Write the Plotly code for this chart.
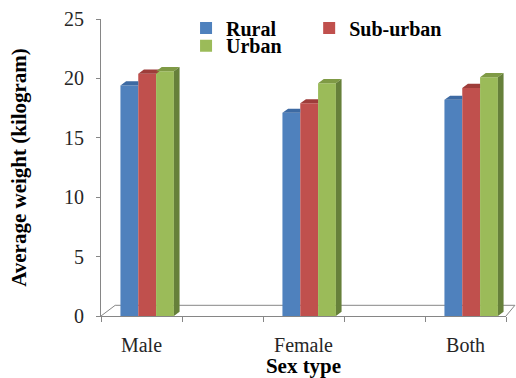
import plotly.graph_objects as go

# ---- data -------------------------------------------------------------
categories = ["Male", "Female", "Both"]
series_names = ["Rural", "Sub-urban", "Urban"]
rural = [19.4, 17.1, 18.2]
sub_urban = [20.4, 17.9, 19.2]
urban = [20.6, 19.6, 20.1]
y_ticks = [0, 5, 10, 15, 20, 25]

# ---- styling ------------------------------------------------------------
FRONT = ["#4F81BD", "#C0504D", "#9BBB59"]
TOP = ["#3d6aa3", "#9e3d3a", "#7f9a45"]
SIDE = "#66803a"
AXIS_GREY = "#868686"
SERIF = "'Times New Roman', 'Liberation Serif', 'DejaVu Serif', serif"

# the category axis has five slots; groups sit on every other one
N_SLOTS = 5
slot_of = [2 * i for i in range(len(categories))]
BAR_W = 0.22
BAR_OFFSETS = [-0.26, -0.04, 0.18]
DX, DY = 0.07, 0.35  # depth of the pseudo-3D faces (x units, y units)

# each series gets its own legend box so the entries can be placed freely
LEGEND_IDS = ["legend", "legend2", "legend3"]

values = [rural, sub_urban, urban]

fig = go.Figure()

for k, (name, vals) in enumerate(zip(series_names, values)):
    fig.add_trace(go.Bar(
        x=slot_of, y=vals, name=name,
        width=BAR_W, offset=BAR_OFFSETS[k],
        marker=dict(color=FRONT[k], line=dict(width=0)),
        legend=LEGEND_IDS[k],
        hoverinfo="skip",
    ))

# top faces (clipped where the neighbouring bar is taller) and the right side face
for k in range(len(values)):
    xs, ys = [], []
    for c, slot in enumerate(slot_of):
        v = values[k][c]
        x0 = slot + BAR_OFFSETS[k]
        x1 = x0 + BAR_W
        nxt = values[k + 1][c] if k + 1 < len(values) else None
        if nxt is not None and nxt >= v + DY:
            xs += [x0, x1, x1, x0 + DX, x0, None]
            ys += [v, v, v + DY, v + DY, v, None]
        else:
            xs += [x0, x1, x1 + DX, x0 + DX, x0, None]
            ys += [v, v, v + DY, v + DY, v, None]
    fig.add_trace(go.Scatter(
        x=xs, y=ys, mode="lines", fill="toself", fillcolor=TOP[k],
        line=dict(width=0, color=TOP[k]), showlegend=False, hoverinfo="skip",
    ))

xs, ys = [], []
for c, slot in enumerate(slot_of):
    v = values[-1][c]
    x1 = slot + BAR_OFFSETS[-1] + BAR_W
    xs += [x1, x1 + DX, x1 + DX, x1, x1, None]
    ys += [0, DY, v + DY, v, 0, None]
fig.add_trace(go.Scatter(
    x=xs, y=ys, mode="lines", fill="toself", fillcolor=SIDE,
    line=dict(width=0, color=SIDE), showlegend=False, hoverinfo="skip",
))

# floor outline behind the bars
floor = dict(type="line", xref="paper", yref="paper", layer="below",
             line=dict(color=AXIS_GREY, width=1))
fig.add_shape(**floor, x0=0, y0=0, x1=0.035, y1=0.036)
fig.add_shape(**floor, x0=0.035, y0=0.036, x1=1.022, y1=0.036)
fig.add_shape(**floor, x0=1.0, y0=0, x1=1.022, y1=0.036)

title_font = dict(family=SERIF, size=21, color="black", weight="bold")
tick_font = dict(family=SERIF, size=20, color="#262626")
legend_font = dict(family=SERIF, size=20, color="black", weight="bold")


def legend_box(x, y):
    return dict(orientation="h", x=x, xanchor="left", y=y, yanchor="top",
                font=legend_font, bgcolor="rgba(0,0,0,0)", itemclick=False)


fig.update_layout(
    width=516, height=378,
    margin=dict(l=101, r=10, t=19, b=62, autoexpand=False),
    paper_bgcolor="white", plot_bgcolor="white",
    showlegend=True,
    xaxis=dict(
        range=[-0.5, N_SLOTS - 0.5], automargin=False,
        tickvals=slot_of, ticktext=categories, ticks="",
        tickfont=tick_font, ticklabelstandoff=11,
        showline=True, linecolor=AXIS_GREY, linewidth=1,
        minor=dict(tickvals=[s - 0.5 for s in range(N_SLOTS + 1)],
                   ticks="outside", ticklen=5, tickcolor=AXIS_GREY, showgrid=False),
        showgrid=False, zeroline=False,
        title=dict(text="Sex type", font=title_font, standoff=7),
    ),
    yaxis=dict(
        range=[0, 25], tickvals=y_ticks, automargin=False,
        ticks="outside", ticklen=4, tickcolor=AXIS_GREY,
        tickfont=tick_font, ticklabelstandoff=8,
        showline=True, linecolor=AXIS_GREY, linewidth=1,
        showgrid=False, zeroline=False,
        title=dict(text="Average weight (kilogram)", font=title_font, standoff=31),
    ),
    legend=legend_box(0.21, 1.035),
    legend2=legend_box(0.514, 1.035),
    legend3=legend_box(0.21, 0.976),
)

fig.write_html("out.html")
